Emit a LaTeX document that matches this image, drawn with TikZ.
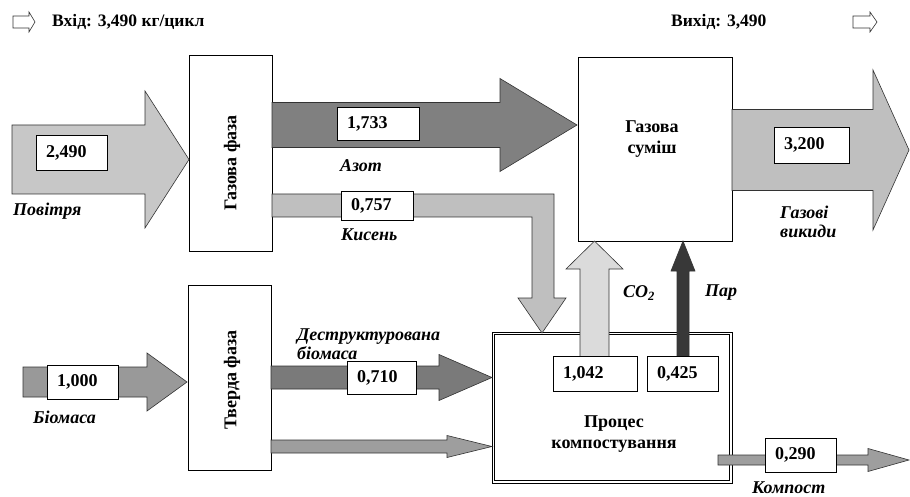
\documentclass[tikz,border=0pt]{standalone}
\usepackage{fontspec}
\setmainfont{Liberation Serif}
\usetikzlibrary{positioning}

% horizontal block arrow: style, x start, x head base, x tip, y centre, body half, head half
\newcommand{\flowright}[7]{%
  \filldraw[flow,#1] (#2,{#5-#6}) -- (#3,{#5-#6}) -- (#3,{#5-#7}) -- (#4,#5)
    -- (#3,{#5+#7}) -- (#3,{#5+#6}) -- (#2,{#5+#6}) -- cycle;}
% vertical block arrow: style, x centre, y start, y head base, y tip, body half, head half
\newcommand{\flowup}[7]{%
  \filldraw[flow,#1] ({#2-#6},#3) -- ({#2-#6},#4) -- ({#2-#7},#4) -- (#2,#5)
    -- ({#2+#7},#4) -- ({#2+#6},#4) -- ({#2+#6},#3) -- cycle;}

\tikzset{
  flow/.style={draw=black!80, line width=0.6pt, line join=miter},
  stagebox/.style={draw, line width=0.7pt, fill=white, inner sep=0pt},
  stagetext/.style={inner sep=0pt, align=center, font=\bfseries\fontsize{18}{21}\selectfont},
  valbox/.style={draw, line width=0.7pt, fill=white, inner xsep=10pt, inner ysep=0pt,
    align=left, font=\bfseries\fontsize{18}{20}\selectfont},
  flowlabel/.style={anchor=west, inner sep=0pt, align=left,
    font=\bfseries\itshape\fontsize{18}{19}\selectfont},
  headtext/.style={anchor=west, inner sep=0pt, font=\bfseries\fontsize{17.5}{19}\selectfont}
}

\begin{document}
\begin{tikzpicture}[x=1pt, y=-1pt]
    \useasboundingbox (0,0) rectangle (910,497);

    % header
    \flowright{fill=white}{13}{29}{35}{22}{6}{10}
    \node[headtext] (inlabel) at (52,22) {Вхід: 3,490 кг/цикл};
    \node[headtext] (outlabel) at (671,22) {Вихід: 3,490};
    \flowright{fill=white}{853}{870}{877}{22}{6}{10}

    % stages
    \node[stagebox, minimum width=83, minimum height=196] (gasphase) at (230.5,153) {};
    \node[stagebox, minimum width=154, minimum height=184] (gasmix) at (655,149) {};
    \node[stagebox, minimum width=83, minimum height=185] (solid) at (229.5,377.5) {};
    \node[stagebox, minimum width=240, minimum height=151] (compost) at (612,407.5) {};
    \node[stagebox, minimum width=235, minimum height=146] (compostin) at (compost.center) {};

    \node[stagetext, rotate=90] (gasphasetxt) at (232,163) {Газова фаза};
    \node[stagetext] (gasmixtxt) at (652,139) {Газова\\суміш};
    \node[stagetext, rotate=90] (solidtxt) at (232,380) {Тверда фаза};
    \node[stagetext] (composttxt) at (614,434) {Процес\\компостування};

    % gas flows
    \flowright{fill=black!22}{12}{145}{189}{159.5}{34.5}{68.5}
    \flowright{fill=black!50}{272}{500}{577}{125}{22.5}{46.5}
    \flowright{fill=black!25}{732}{873}{909}{150}{40.5}{80}
    \filldraw[flow, fill=black!25] (272,194) -- (554,194) -- (554,298) -- (566,298) -- (542,333)
        -- (518,298) -- (532,298) -- (532,217) -- (272,217) -- cycle;
    \flowup{fill=black!14}{594.5}{357}{269}{241}{14.5}{28.5}
    \flowup{fill=black!78}{683}{357}{271}{241}{6}{12}

    % solid flows
    \flowright{fill=black!40}{23}{147}{187}{382}{15}{29}
    \flowright{fill=black!52}{271}{439}{492}{377.5}{11.5}{23}
    \flowright{fill=black!38}{271}{447}{492}{446.5}{6.5}{11}
    \flowright{fill=black!38}{718}{868}{909}{460}{5}{11.5}

    % values
    \node[valbox, text width=51, minimum height=35] (vair) at (71.5,152.5) {2,490};
    \node[valbox, text width=62, minimum height=33] (vnitro) at (378,123.5) {1,733};
    \node[valbox, text width=52, minimum height=29] (voxy) at (377,205.5) {0,757};
    \node[valbox, text width=55, minimum height=36] (vexh) at (811.5,145) {3,200};
    \node[valbox, text width=51, minimum height=34] (vbio) at (82.5,382) {1,000};
    \node[valbox, text width=49, minimum height=33] (vdest) at (381.5,377.5) {0,710};
    \node[valbox, text width=64, minimum height=35] (vco) at (595,373.5) {1,042};
    \node[valbox, text width=51, minimum height=35] (vsteam) at (682.5,373.5) {0,425};
    \node[valbox, text width=51, minimum height=34] (vcomp) at (800.5,455) {0,290};

    % labels
    \node[flowlabel] (lair) at (13,211) {Повітря};
    \node[flowlabel] (lnitro) at (340,166) {Азот};
    \node[flowlabel] (loxy) at (341,235) {Кисень};
    \node[flowlabel] (lexh) at (780,222) {Газові\\викиди};
    \node[flowlabel] (lbio) at (33,417) {Біомаса};
    \node[flowlabel] (ldest) at (297,344) {Деструктурована\\біомаса};
    \node[flowlabel] (lco) at (623,293) {CO\textsubscript{2}};
    \node[flowlabel] (lsteam) at (705,293) {Пар};
    \node[flowlabel] (lcomp) at (752,488) {Компост};
\end{tikzpicture}
\end{document}
